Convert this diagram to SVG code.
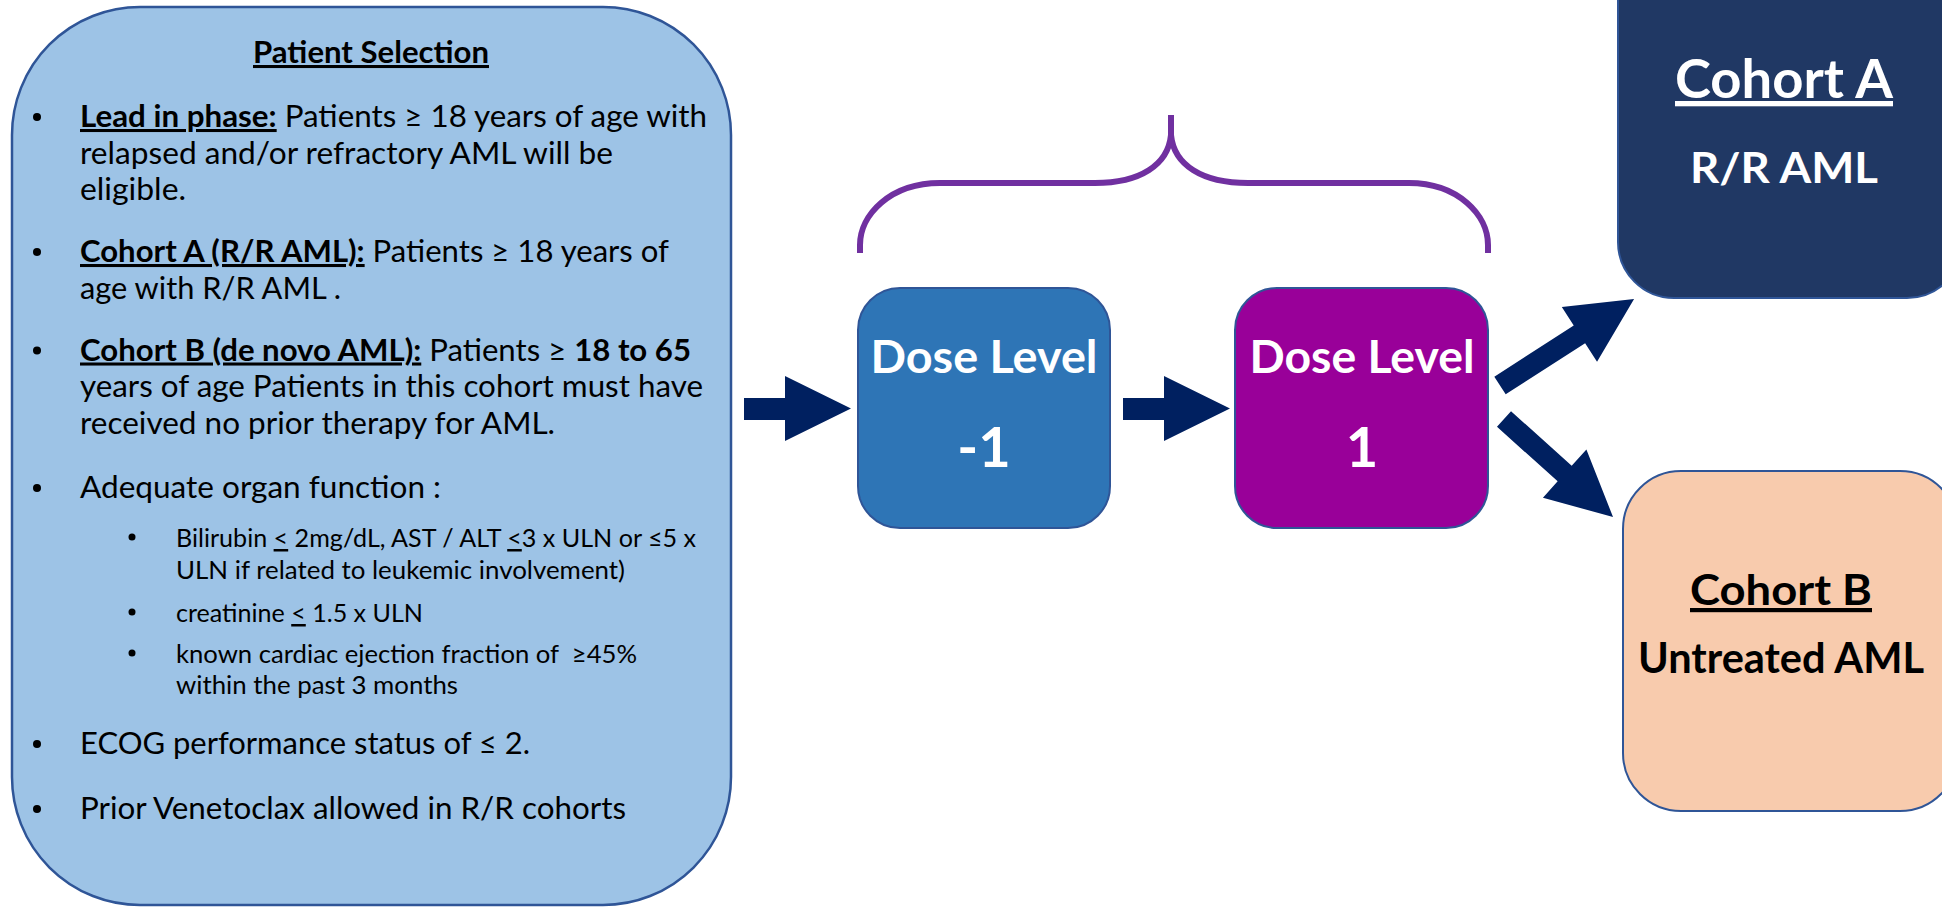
<svg xmlns="http://www.w3.org/2000/svg" width="1942" height="909" viewBox="0 0 1942 909">
  <style>
    .body { font-family: Lato, "Liberation Sans", Arial, sans-serif; font-size: 30.5px; fill: #000000; }
    .sub { font-family: Lato, "Liberation Sans", Arial, sans-serif; font-size: 25px; fill: #000000; }
    .b { font-weight: bold; }
    .bu { font-weight: bold; text-decoration: underline; }
    .u { text-decoration: underline; }
    .dose { font-family: Lato, "Liberation Sans", Arial, sans-serif; font-weight: bold; fill: #FFFFFF; text-anchor: middle; }
    .cohort { font-family: Lato, "Liberation Sans", Arial, sans-serif; font-weight: bold; text-anchor: middle; }
    .arrow { fill: #002060; }
    .brace { fill: none; stroke: #7030A0; stroke-width: 6; }
    .bul { fill: #000000; }
  </style>

  <g id="patient-selection">
    <rect x="12" y="7" width="719" height="898" rx="128" ry="128" fill="#9DC3E6" stroke="#2F5597" stroke-width="2.5"/>
    <text class="body bu" x="371" y="63" text-anchor="middle" textLength="236" lengthAdjust="spacingAndGlyphs">Patient Selection</text>

    <circle class="bul" cx="37" cy="117" r="4"/>
    <text class="body" x="80" y="127" textLength="627" lengthAdjust="spacingAndGlyphs"><tspan class="bu">Lead in phase:</tspan> Patients ≥ 18 years of age with</text>
    <text class="body" x="80" y="163.5" textLength="533" lengthAdjust="spacingAndGlyphs">relapsed and/or refractory AML will be</text>
    <text class="body" x="80" y="200" textLength="106" lengthAdjust="spacingAndGlyphs">eligible.</text>

    <circle class="bul" cx="37" cy="252" r="4"/>
    <text class="body" x="80" y="262" textLength="589" lengthAdjust="spacingAndGlyphs"><tspan class="bu">Cohort A (R/R AML):</tspan> Patients ≥ 18 years of</text>
    <text class="body" x="80" y="298.5" textLength="261" lengthAdjust="spacingAndGlyphs">age with R/R AML .</text>

    <circle class="bul" cx="37" cy="350.5" r="4"/>
    <text class="body" x="80" y="360.5" textLength="611" lengthAdjust="spacingAndGlyphs"><tspan class="bu">Cohort B (de novo AML):</tspan> Patients ≥ <tspan class="b">18 to 65</tspan></text>
    <text class="body" x="80" y="397" textLength="623" lengthAdjust="spacingAndGlyphs">years of age Patients in this cohort must have</text>
    <text class="body" x="80" y="433.5" textLength="475" lengthAdjust="spacingAndGlyphs">received no prior therapy for AML.</text>

    <circle class="bul" cx="37" cy="488" r="4"/>
    <text class="body" x="80" y="498" textLength="361" lengthAdjust="spacingAndGlyphs">Adequate organ function :</text>

    <circle class="bul" cx="132" cy="537" r="3.5"/>
    <text class="sub" x="176" y="547" textLength="520" lengthAdjust="spacingAndGlyphs">Bilirubin <tspan class="u">&lt;</tspan> 2mg/dL, AST / ALT <tspan class="u">&lt;</tspan>3 x ULN or ≤5 x</text>
    <text class="sub" x="176" y="579" textLength="449" lengthAdjust="spacingAndGlyphs">ULN if related to leukemic involvement)</text>

    <circle class="bul" cx="132" cy="612" r="3.5"/>
    <text class="sub" x="176" y="622" textLength="247" lengthAdjust="spacingAndGlyphs">creatinine <tspan class="u">&lt;</tspan> 1.5 x ULN</text>

    <circle class="bul" cx="132" cy="653" r="3.5"/>
    <text class="sub" x="176" y="663" textLength="461" lengthAdjust="spacingAndGlyphs" xml:space="preserve">known cardiac ejection fraction of  ≥45%</text>
    <text class="sub" x="176" y="694" textLength="282" lengthAdjust="spacingAndGlyphs">within the past 3 months</text>

    <circle class="bul" cx="37" cy="744" r="4"/>
    <text class="body" x="80" y="754" textLength="450" lengthAdjust="spacingAndGlyphs">ECOG performance status of ≤ 2.</text>

    <circle class="bul" cx="37" cy="809" r="4"/>
    <text class="body" x="80" y="819" textLength="546" lengthAdjust="spacingAndGlyphs">Prior Venetoclax allowed in R/R cohorts</text>
  </g>

  <g id="dose-level-minus1">
    <rect x="858" y="288" width="252" height="240" rx="42" ry="42" fill="#2E75B6" stroke="#2F5597" stroke-width="2"/>
    <text class="dose" x="984" y="373" font-size="46" textLength="227" lengthAdjust="spacingAndGlyphs">Dose Level</text>
    <text class="dose" x="984" y="467" font-size="56">-1</text>
  </g>

  <g id="dose-level-1">
    <rect x="1235" y="288" width="253" height="240" rx="42" ry="42" fill="#990099" stroke="#2F5597" stroke-width="2"/>
    <text class="dose" x="1362" y="373" font-size="46" textLength="225" lengthAdjust="spacingAndGlyphs">Dose Level</text>
    <text class="dose" x="1362" y="467" font-size="56">1</text>
  </g>

  <g id="cohort-a">
    <rect x="1618" y="-100" width="345" height="398" rx="56" ry="56" fill="#203864" stroke="#2F5597" stroke-width="2"/>
    <text class="cohort" x="1784" y="98" font-size="53" fill="#FFFFFF" text-decoration="underline" textLength="218" lengthAdjust="spacingAndGlyphs">Cohort A</text>
    <text class="cohort" x="1784" y="183" font-size="42" fill="#FFFFFF" textLength="188" lengthAdjust="spacingAndGlyphs">R/R AML</text>
  </g>

  <g id="cohort-b">
    <rect x="1623" y="471" width="335" height="340" rx="58" ry="58" fill="#F8CBAD" stroke="#2F5597" stroke-width="2"/>
    <text class="cohort" x="1781" y="605" font-size="42" fill="#000000" text-decoration="underline" textLength="182" lengthAdjust="spacingAndGlyphs">Cohort B</text>
    <text class="cohort" x="1781" y="673" font-size="42" fill="#000000" textLength="286" lengthAdjust="spacingAndGlyphs">Untreated AML</text>
  </g>

  <g id="connectors">
    <path class="brace" d="M 860 253 L 860 245 C 860 215 890 183 940 183 L 1095 183 C 1140 183 1168 165 1171 135 L 1171 115 M 1171 135 C 1174 165 1202 183 1248 183 L 1409 183 C 1458 183 1488 215 1488 245 L 1488 253"/>
    <polygon class="arrow" points="744,398 785,398 785,376 851,408.5 785,441 785,420 744,420"/>
    <polygon class="arrow" points="1123,398 1164,398 1164,376 1230,408.5 1164,441 1164,420 1123,420"/>
    <polygon class="arrow" transform="translate(1500,385.5) rotate(-32.8)" points="0,-10.5 94.5,-10.5 94.5,-32.5 159.5,0 94.5,32.5 94.5,10.5 0,10.5"/>
    <polygon class="arrow" transform="translate(1504,419) rotate(41.96)" points="0,-10.5 81.6,-10.5 81.6,-32.5 146.6,0 81.6,32.5 81.6,10.5 0,10.5"/>
  </g>
</svg>
